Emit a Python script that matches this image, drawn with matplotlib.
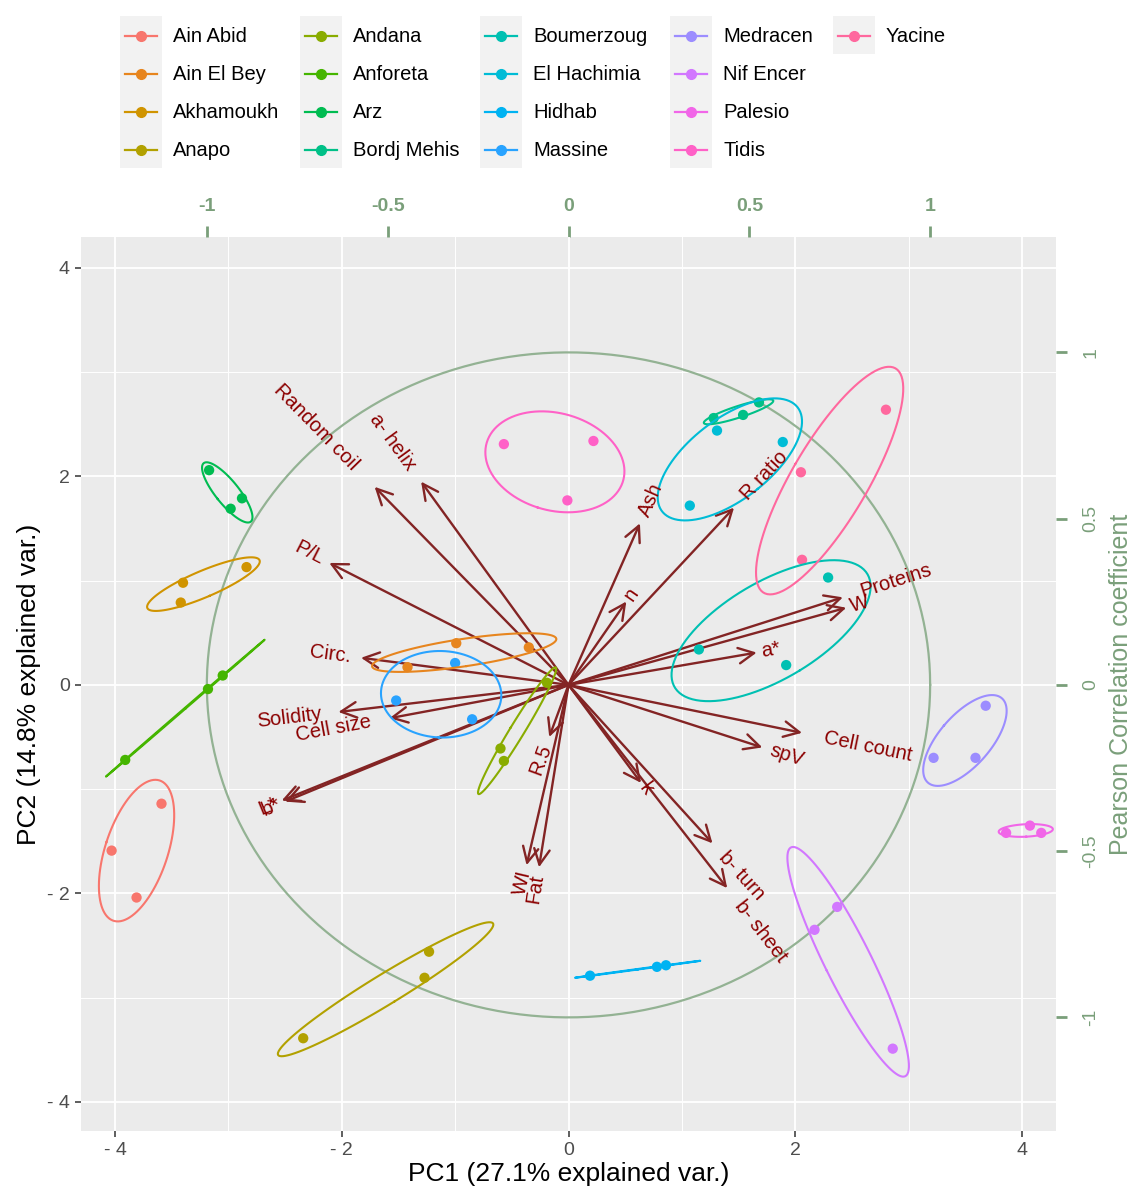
import numpy as np
import matplotlib
matplotlib.use('Agg')
import matplotlib.pyplot as plt
from matplotlib.patches import FancyArrowPatch, Rectangle
from matplotlib.lines import Line2D

plt.rcParams['font.family'] = ['Liberation Sans', 'DejaVu Sans']

# cultivars and their PC scores (3 samples each)
cultivars = ['Ain Abid', 'Ain El Bey', 'Akhamoukh', 'Anapo', 'Andana', 'Anforeta',
             'Arz', 'Bordj Mehis', 'Boumerzoug', 'El Hachimia', 'Hidhab', 'Massine',
             'Medracen', 'Nif Encer', 'Palesio', 'Tidis', 'Yacine']
pc1_scores = [[-3.59, -4.03, -3.81], [-1.42, -0.99, -0.35], [-3.40, -3.42, -2.84],
              [-2.34, -1.27, -1.23], [-0.19, -0.60, -0.57], [-3.91, -3.18, -3.05],
              [-3.17, -2.88, -2.98], [1.28, 1.54, 1.68], [1.15, 2.29, 1.92],
              [1.31, 1.89, 1.07], [0.19, 0.78, 0.86], [-1.52, -1.00, -0.85],
              [3.68, 3.22, 3.59], [2.17, 2.37, 2.86], [3.86, 4.07, 4.17],
              [-0.57, 0.22, -0.01], [2.80, 2.05, 2.06]]
pc2_scores = [[-1.14, -1.59, -2.04], [0.17, 0.40, 0.36], [0.98, 0.79, 1.13],
              [-3.39, -2.81, -2.56], [0.02, -0.61, -0.73], [-0.72, -0.04, 0.09],
              [2.06, 1.79, 1.69], [2.56, 2.59, 2.71], [0.34, 1.03, 0.19],
              [2.44, 2.33, 1.72], [-2.79, -2.705, -2.69], [-0.15, 0.21, -0.33],
              [-0.20, -0.70, -0.70], [-2.35, -2.13, -3.49], [-1.42, -1.35, -1.42],
              [2.31, 2.34, 1.77], [2.64, 2.04, 1.20]]

# variable loadings (arrow tips)
var_names = ['Random coil', 'a- helix', 'P/L', 'Circ.', 'Solidity', 'Cell size',
             'L*', 'b*', 'R.5', 'WI', 'Fat', 'k', 'b- turn', 'b- sheet', 'spV',
             'Cell count', 'a*', 'W', 'Proteins', 'n', 'Ash', 'R ratio']
var_pc1 = [-1.71, -1.30, -2.11, -1.83, -2.03, -1.58, -2.53, -2.50, -0.17, -0.37, -0.26,
           0.64, 1.27, 1.40, 1.71, 2.06, 1.66, 2.45, 2.42, 0.51, 0.63, 1.46]
var_pc2 = [1.90, 1.95, 1.17, 0.26, -0.26, -0.32, -1.11, -1.12, -0.50, -1.73, -1.75,
           -0.94, -1.52, -1.95, -0.60, -0.46, 0.31, 0.74, 0.84, 0.80, 1.55, 1.70]

corr_radius = 3.19
corr_ticks = [-1, -0.5, 0, 0.5, 1]
corr_labels = ['-1', '-0.5', '0', '0.5', '1']
pc_ticks = [-4, -2, 0, 2, 4]
pc_labels = ['- 4', '- 2', '0', '2', '4']


def hcl_hex(h, c=100.0, l=65.0):
    # polar LUV -> sRGB, same as R's hcl()
    hr = np.deg2rad(h)
    u, v = c * np.cos(hr), c * np.sin(hr)
    Xn, Yn, Zn = 95.047, 100.0, 108.883
    Y = Yn * ((l + 16) / 116) ** 3
    den = Xn + 15 * Yn + 3 * Zn
    up = u / (13 * l) + 4 * Xn / den
    vp = v / (13 * l) + 9 * Yn / den
    X = 9 * Y * up / (4 * vp)
    Z = (9 * Y / vp - X - 15 * Y) / 3
    M = np.array([[3.2404542, -1.5371385, -0.4985314],
                  [-0.9692660, 1.8760108, 0.0415560],
                  [0.0556434, -0.2040259, 1.0572252]])
    rgb = M @ (np.array([X, Y, Z]) / 100)
    rgb = np.where(rgb <= 0.0031308, 12.92 * rgb, 1.055 * np.abs(rgb) ** (1 / 2.4) - 0.055)
    rgb = np.clip(rgb, 0, 1)
    return '#%02x%02x%02x' % tuple(int(round(x * 255)) for x in rgb)


n = len(cultivars)
hues = np.linspace(15, 375, n + 1)[:-1]
colors = [hcl_hex(h) for h in hues]


def group_ellipse(x, y, prob=0.68, npts=100):
    cov = np.cov(x, y)
    vals, vecs = np.linalg.eigh(cov)
    vals = np.clip(vals, 0, None)
    r = np.sqrt(-2 * np.log(1 - prob))
    t = np.linspace(0, 2 * np.pi, npts)
    circ = np.vstack([np.cos(t), np.sin(t)])
    pts = vecs @ (np.sqrt(vals)[:, None] * circ) * r
    return pts[0] + np.mean(x), pts[1] + np.mean(y)


W, H = 1131, 1191
fig = plt.figure(figsize=(W / 100, H / 100), dpi=100)
ax = fig.add_axes([81 / W, 1 - 1131 / H, (1056 - 81) / W, (1131 - 237) / H])
ax.set_facecolor('#EBEBEB')
ax.set_xlim(-4.30, 4.30)
ax.set_ylim(-4.28, 4.297)
for s in ax.spines.values():
    s.set_visible(False)

ax.set_xticks(pc_ticks)
ax.set_xticklabels(pc_labels)
ax.set_yticks(pc_ticks)
ax.set_yticklabels(pc_labels)
ax.set_xticks([-3, -1, 1, 3], minor=True)
ax.set_yticks([-3, -1, 1, 3], minor=True)
ax.grid(True, which='major', color='white', lw=1.3)
ax.grid(True, which='minor', color='white', lw=0.7)
ax.set_axisbelow(True)
ax.tick_params(which='major', length=4, width=1.1, color='#333333',
               labelcolor='#4D4D4D', labelsize=14, pad=4)
ax.tick_params(which='minor', length=0)
ax.set_xlabel('PC1 (27.1% explained var.)', fontsize=19, labelpad=2)
ax.set_ylabel('PC2 (14.8% explained var.)', fontsize=19, labelpad=4)

# correlation circle
t = np.linspace(0, 2 * np.pi, 200)
ax.plot(corr_radius * np.cos(t), corr_radius * np.sin(t), color='#93b293', lw=1.6, zorder=2)

# loading arrows
arrow_col = '#832424'
for vx, vy in zip(var_pc1, var_pc2):
    ax.add_patch(FancyArrowPatch((0, 0), (vx, vy), arrowstyle='->,head_length=0.7,head_width=0.35',
                                 mutation_scale=16, color=arrow_col, lw=1.7,
                                 shrinkA=0, shrinkB=0, zorder=3))

# samples and group ellipses
for name, xs, ys, col in zip(cultivars, pc1_scores, pc2_scores, colors):
    ax.scatter(xs, ys, s=55, color=col, edgecolors='none', zorder=4)
    ex, ey = group_ellipse(np.array(xs), np.array(ys))
    ax.plot(ex, ey, color=col, lw=1.5, zorder=5)

# variable labels along the arrows
fig.canvas.draw()
renderer = fig.canvas.get_renderer()
o = ax.transData.transform((0, 0))
sx, sy = ax.transData.transform((1, 1)) - o
label_fs = 14.5
for name, vx, vy in zip(var_names, var_pc1, var_pc2):
    tmp = ax.text(0, 0, name, fontsize=label_fs)
    w = tmp.get_window_extent(renderer=renderer).width
    tmp.remove()
    ang = np.arctan((vy * sy) / (vx * sx))
    sgn = 1 if vx > 0 else -1
    off = sgn * 0.25 * w
    ax.annotate(name, xy=(vx, vy), xytext=(off * np.cos(ang), off * np.sin(ang)),
                textcoords='offset pixels', rotation=np.degrees(ang), rotation_mode='anchor',
                ha='left' if vx > 0 else 'right', va='center', fontsize=label_fs,
                color='#8B0000', zorder=6)

# Pearson correlation axes
green = '#7a9f7a'
secx = ax.secondary_xaxis('top', functions=(lambda x: x / corr_radius, lambda c: c * corr_radius))
secx.set_xticks(corr_ticks)
secx.set_xticklabels(corr_labels)
secx.tick_params(colors=green, length=8, width=2, labelsize=14, pad=8)
for lab in secx.get_xticklabels():
    lab.set_fontweight('bold')
secx.spines['top'].set_visible(False)

secy = ax.secondary_yaxis('right', functions=(lambda y: y / corr_radius, lambda c: c * corr_radius))
secy.set_yticks(corr_ticks)
secy.set_yticklabels(corr_labels, rotation=90, va='center')
secy.tick_params(colors=green, length=8, width=2, labelsize=14, pad=11)
secy.spines['right'].set_visible(False)
secy.set_ylabel('Pearson Correlation coefficient', color=green, fontsize=18, labelpad=7)

# legend: 4 rows per column, grey key strips
col_left = [120, 300, 480, 670, 833]
row_y = [36, 74, 112, 150]
fx = lambda px: px / W
fy = lambda py: 1 - py / H
for c in range(5):
    rows = [r for r in range(4) if c * 4 + r < n]
    top, bot = row_y[rows[0]] - 20, row_y[rows[-1]] + 18
    fig.add_artist(Rectangle((fx(col_left[c]), fy(bot)), 42 / W, (bot - top) / H,
                             transform=fig.transFigure, facecolor='#F2F2F2', edgecolor='none'))
    for r in rows:
        i = c * 4 + r
        fig.add_artist(Line2D([fx(col_left[c] + 5), fx(col_left[c] + 37)], [fy(row_y[r])] * 2,
                              transform=fig.transFigure, color=colors[i], lw=1.6))
        fig.add_artist(Line2D([fx(col_left[c] + 21)], [fy(row_y[r])], transform=fig.transFigure,
                              color=colors[i], marker='o', markersize=7, lw=0))
        fig.text(fx(col_left[c] + 53), fy(row_y[r]), cultivars[i], fontsize=14.5,
                 va='center', ha='left', color='black')

fig.savefig('out.png', dpi=100)
